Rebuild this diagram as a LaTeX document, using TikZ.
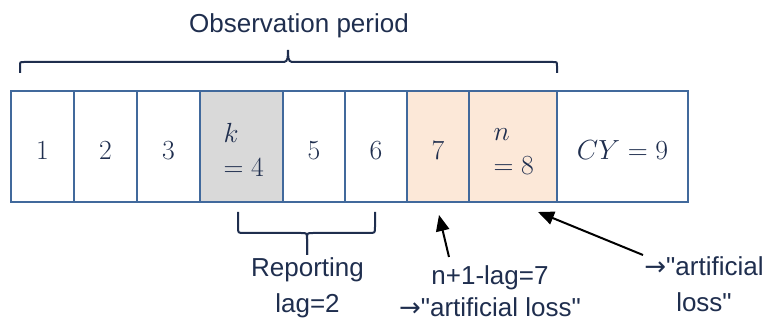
\documentclass[tikz,border=0pt]{standalone}
\usepackage{fontspec}
\newfontfamily\labelfont{Liberation Sans}
\newfontfamily\arrowfont{DejaVu Sans}
\usetikzlibrary{arrows.meta}
\usepackage{xcolor}
\definecolor{cellblue}{HTML}{41699C}
\definecolor{inkblue}{HTML}{1F2E4E}
\definecolor{lossorange}{HTML}{FCE8D8}
\definecolor{reportgray}{HTML}{D9D9D9}
\tikzset{every picture/.style={line width=0.75pt}}
\newcommand{\toarrow}{{\arrowfont →}}

\begin{document}
\begin{tikzpicture}[x=0.75pt,y=0.75pt,yscale=-1,xscale=1,
  cellbox/.style={draw=cellblue, line width=2pt},
  celltext/.style={text=inkblue, font=\fontsize{19.5}{26}\selectfont, inner sep=0.75pt},
  labeltext/.style={text=inkblue, font=\labelfont\fontsize{19.5}{27}\selectfont, align=center, inner sep=0.75pt},
  bracket/.style={draw=inkblue, line width=1.5pt},
  pointer/.style={draw=black, line width=1.5pt, -{Triangle[length=12pt,width=10pt]}}]
\useasboundingbox (0,0) rectangle (765,320);

%Shape: Rectangle cells, fills first
\draw[cellbox, fill=reportgray] (200,91) rectangle (283,202);
\draw[cellbox, fill=lossorange] (407,91) rectangle (469,202);
\draw[cellbox, fill=lossorange] (469,91) rectangle (557,202);
\draw[cellbox] (11,91) rectangle (74,202);
\draw[cellbox] (74,91) rectangle (137,202);
\draw[cellbox] (137,91) rectangle (200,202);
\draw[cellbox] (283,91) rectangle (345,202);
\draw[cellbox] (345,91) rectangle (407,202);
\draw[cellbox] (557,91) rectangle (688,202);

% Text Node
\node[celltext, anchor=base] (c1) at (42.5,160) {$1$};
\node[celltext, anchor=base] (c2) at (105.5,160) {$2$};
\node[celltext, anchor=base] (c3) at (168.5,160) {$3$};
\node[celltext, anchor=base west, align=left] (ck) at (222,177) {$k$\\$=4$};
\node[celltext, anchor=base] (c5) at (314,160) {$5$};
\node[celltext, anchor=base] (c6) at (376,160) {$6$};
\node[celltext, anchor=base] (c7) at (438,160) {$7$};
\node[celltext, anchor=base west, align=left] (cn) at (492,175) {$n$\\$=8$};
\node[celltext, anchor=base] (ccy) at (622.5,160) {$CY=9$};

%Brace over the observation period
\draw[bracket] (20,73) -- (20,66) .. controls (20,62) .. (24,62) -- (284,62)
  .. controls (288,62) and (288,56) .. (288,50)
  .. controls (288,56) and (288,62) .. (292,62) -- (553,62)
  .. controls (557,62) .. (557,66) -- (557,73);
%Brace under the reporting lag
\draw[bracket] (238,212) -- (238,227) .. controls (238,233) .. (244,233) -- (301,233)
  .. controls (307,233) .. (307,239) -- (307,255);
\draw[bracket] (307,255) -- (307,239) .. controls (307,233) .. (313,233) -- (369,233)
  .. controls (375,233) .. (375,227) -- (375,212);

% Text Node
\node[labeltext, anchor=base] (obs) at (299,33) {Observation period};
\node[labeltext, anchor=base] (replag) at (307.5,313) {Reporting\\lag=2};
\node[labeltext, anchor=base] (lag7) at (490,317) {n+1-lag=7\\[-3pt]\toarrow"artificial loss"};
\node[labeltext, anchor=base] (art8) at (704,312) {\toarrow"artificial\\loss"};

%Arrows to the artificial losses
\coordinate (tail7) at (449,257);
\coordinate (tip7) at (439,215);
\coordinate (tail8) at (643,255);
\coordinate (tip8) at (538,212);
\draw[pointer] (tail7) -- (tip7);
\draw[pointer] (tail8) -- (tip8);

\end{tikzpicture}
\end{document}
